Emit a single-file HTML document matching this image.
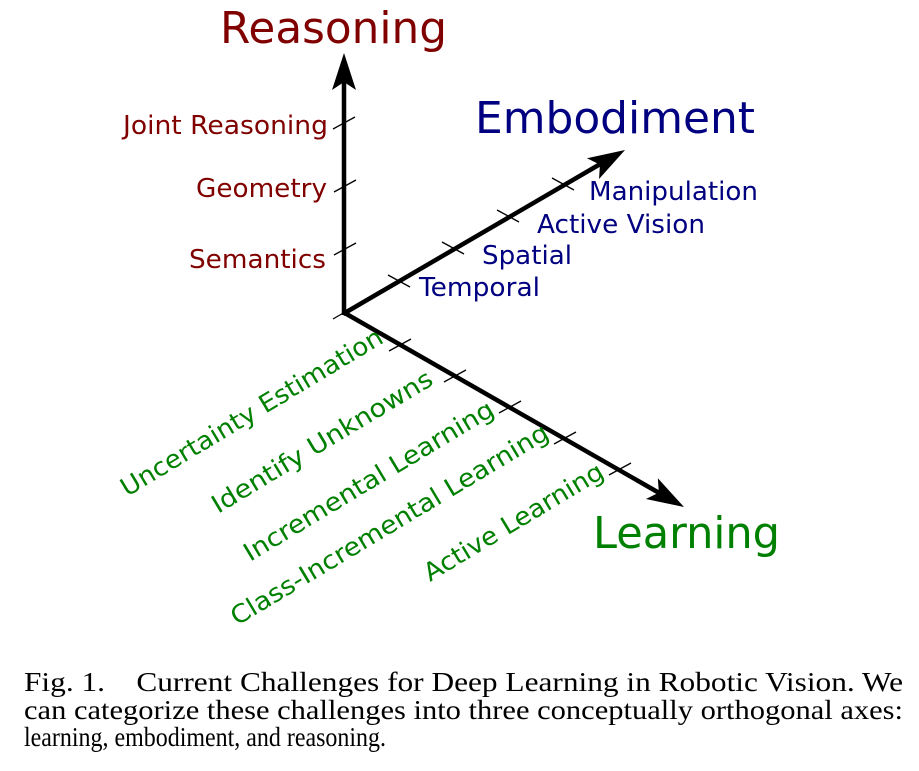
<!DOCTYPE html>
<html><head><meta charset="utf-8"><style>
html,body{margin:0;padding:0;background:#fff;}
svg{display:block;}
.d{font-family:"DejaVu Sans","Liberation Sans",sans-serif;}
.c{font-family:"Liberation Serif",serif;font-size:27px;fill:#000;}
</style></head><body>
<svg width="919" height="771" viewBox="0 0 919 771" xmlns="http://www.w3.org/2000/svg">
<g stroke="#000" stroke-width="4.5" fill="none" stroke-linecap="butt">
<line x1="344" y1="315" x2="344" y2="80"/>
<line x1="343" y1="314" x2="602" y2="163"/>
<line x1="343" y1="312" x2="661" y2="494"/>
</g>
<g fill="#000">
<path d="M0,0 L-37,-12 L-29,0 L-37,12 Z" transform="translate(344,53) rotate(-90)"/>
<path d="M0,0 L-37,-12 L-29,0 L-37,12 Z" transform="translate(625,150) rotate(-30.2)"/>
<path d="M0,0 L-37,-12 L-29,0 L-37,12 Z" transform="translate(684,507) rotate(29.8)"/>
</g>
<g stroke="#000" stroke-width="1.3">
<line x1="333" y1="129" x2="355" y2="117"/>
<line x1="334" y1="192" x2="356" y2="180"/>
<line x1="334" y1="255" x2="356" y2="243"/>
<line x1="333" y1="319" x2="345" y2="312"/>
<line x1="388" y1="275" x2="410" y2="287"/>
<line x1="442" y1="242" x2="464" y2="254"/>
<line x1="497" y1="210" x2="519" y2="222"/>
<line x1="552" y1="178" x2="574" y2="190"/>
<line x1="389" y1="351" x2="411" y2="339"/>
<line x1="444" y1="382" x2="466" y2="370"/>
<line x1="499" y1="413" x2="521" y2="401"/>
<line x1="554" y1="444" x2="576" y2="432"/>
<line x1="609" y1="475" x2="631" y2="463"/>
</g>
<g class="d" fill="#800000">
<text x="220" y="43" font-size="44" textLength="227" lengthAdjust="spacingAndGlyphs">Reasoning</text>
<text x="123" y="134" font-size="25.5" textLength="205" lengthAdjust="spacingAndGlyphs">Joint Reasoning</text>
<text x="196" y="197" font-size="25.5" textLength="131" lengthAdjust="spacingAndGlyphs">Geometry</text>
<text x="189" y="268" font-size="25.5" textLength="137" lengthAdjust="spacingAndGlyphs">Semantics</text>
</g>
<g class="d" fill="#000080">
<text x="475" y="133" font-size="44" textLength="280" lengthAdjust="spacingAndGlyphs">Embodiment</text>
<text x="589" y="200" font-size="25.5" textLength="169" lengthAdjust="spacingAndGlyphs">Manipulation</text>
<text x="537" y="233" font-size="25.5" textLength="168" lengthAdjust="spacingAndGlyphs">Active Vision</text>
<text x="482" y="264" font-size="25.5" textLength="90" lengthAdjust="spacingAndGlyphs">Spatial</text>
<text x="419" y="296" font-size="25.5" textLength="121" lengthAdjust="spacingAndGlyphs">Temporal</text>
</g>
<g class="d" fill="#008000">
<text x="593" y="548" font-size="44" textLength="187" lengthAdjust="spacingAndGlyphs">Learning</text>
<text font-size="25" transform="translate(127,497) rotate(-31)" textLength="301" lengthAdjust="spacingAndGlyphs">Uncertainty Estimation</text>
<text font-size="25" transform="translate(218,514) rotate(-31)" textLength="253" lengthAdjust="spacingAndGlyphs">Identify Unknowns</text>
<text font-size="25" transform="translate(250,562) rotate(-31)" textLength="287" lengthAdjust="spacingAndGlyphs">Incremental Learning</text>
<text font-size="25" transform="translate(237,626) rotate(-31)" textLength="366" lengthAdjust="spacingAndGlyphs">Class-Incremental Learning</text>
<text font-size="25" transform="translate(430,582) rotate(-31)" textLength="205" lengthAdjust="spacingAndGlyphs">Active Learning</text>
</g>
<text class="c" x="24" y="691" textLength="879" lengthAdjust="spacingAndGlyphs">Fig. 1.&#160;&#160;&#160; Current Challenges for Deep Learning in Robotic Vision. We</text>
<text class="c" x="24" y="719" textLength="879" lengthAdjust="spacingAndGlyphs">can categorize these challenges into three conceptually orthogonal axes:</text>
<text class="c" x="24" y="746" textLength="362" lengthAdjust="spacingAndGlyphs">learning, embodiment, and reasoning.</text>
</svg>
</body></html>
